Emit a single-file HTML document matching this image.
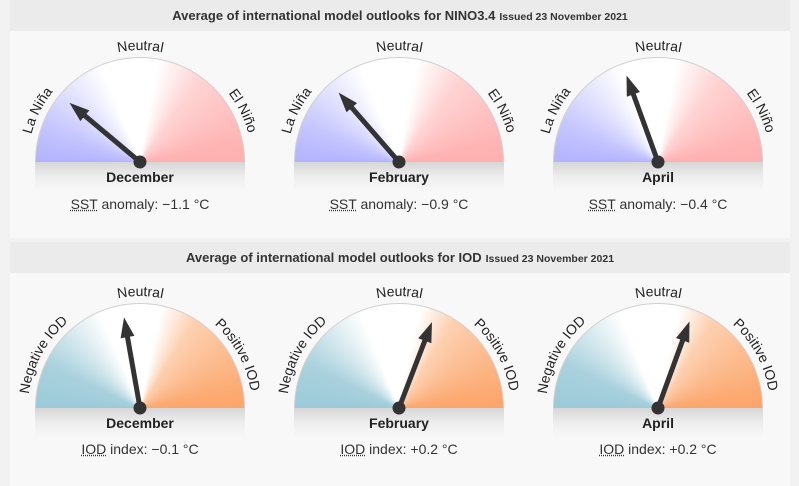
<!DOCTYPE html>
<html><head><meta charset="utf-8"><style>
body{margin:0;width:799px;height:486px;background:#f2f2f2;position:relative;overflow:hidden;font-family:"Liberation Sans",Arial,sans-serif;}
.hdr{position:absolute;left:10px;width:780px;height:31px;background:#ebebeb;text-align:center;line-height:31px;font-weight:bold;font-size:13px;color:#333;}
.hdr small{font-size:10.5px;margin-left:4px;}
.pan{position:absolute;left:10px;width:780px;background:#f8f8f8;}
.fill{position:absolute;width:210px;height:105px;border-radius:105px 105px 0 0;box-sizing:border-box;border:1.5px solid #d0d0d0;border-bottom:none;}
.nino{background:conic-gradient(from -90deg at 50% 100%,#b3b3ff 0deg,#c4c4ff 20deg,#fff 68deg,#fff 100deg,#ffd4d4 125deg,#ffb3b3 170deg,#ffb0b0 180deg);}
.iod{background:conic-gradient(from -90deg at 50% 100%,#9ccad8 0deg,#a9d1dd 25deg,#fff 68deg,#fff 102deg,#fdd0b0 122deg,#fcaa72 170deg,#fba56a 180deg);}
.strip{position:absolute;width:210px;height:30px;background:linear-gradient(#d6d6d6,#eeeeee 50%,#f8f8f8);}
.val{position:absolute;width:210px;text-align:center;font-size:14px;color:#333;}
.val u{text-decoration:underline dotted;}
svg{position:absolute;left:0;top:0;}
</style></head><body>
<div class="hdr" style="top:0">Average of international model outlooks for NINO3.4<small>Issued 23 November 2021</small></div>
<div class="pan" style="top:31px;height:207px"></div>
<div class="hdr" style="top:242px">Average of international model outlooks for IOD<small>Issued 23 November 2021</small></div>
<div class="pan" style="top:273px;height:213px"></div>

<div class="fill nino" style="left:35px;top:57px"></div>
<div class="fill nino" style="left:294px;top:57px"></div>
<div class="fill nino" style="left:553px;top:57px"></div>
<div class="strip" style="left:35px;top:162px"></div>
<div class="strip" style="left:294px;top:162px"></div>
<div class="strip" style="left:553px;top:162px"></div>
<div class="val" style="left:35px;top:196px"><u>SST</u> anomaly: −1.1 °C</div>
<div class="val" style="left:294px;top:196px"><u>SST</u> anomaly: −0.9 °C</div>
<div class="val" style="left:553px;top:196px"><u>SST</u> anomaly: −0.4 °C</div>

<div class="fill iod" style="left:35px;top:303px"></div>
<div class="fill iod" style="left:294px;top:303px"></div>
<div class="fill iod" style="left:553px;top:303px"></div>
<div class="strip" style="left:35px;top:408px"></div>
<div class="strip" style="left:294px;top:408px"></div>
<div class="strip" style="left:553px;top:408px"></div>
<div class="val" style="left:35px;top:441px"><u>IOD</u> index: −0.1 °C</div>
<div class="val" style="left:294px;top:441px"><u>IOD</u> index: +0.2 °C</div>
<div class="val" style="left:553px;top:441px"><u>IOD</u> index: +0.2 °C</div>

<svg width="799" height="486" viewBox="0 0 799 486">
<defs>
<path id="arc" d="M -112 0 A 112 112 0 0 1 112 0"/>
<g id="arrow"><line x1="0" y1="0" x2="0" y2="-76" stroke="#333" stroke-width="5"/><polygon points="0,-92 -7,-72 7,-72" fill="#333"/><circle r="6.5" fill="#333"/></g>
</defs>
<g font-size="14" fill="#222">
<g transform="translate(140,162)">
<text><textPath href="#arc" startOffset="52" text-anchor="middle">La Niña</textPath></text>
<text><textPath href="#arc" startOffset="176" text-anchor="middle">Neutral</textPath></text>
<text><textPath href="#arc" startOffset="300" text-anchor="middle">El Niño</textPath></text>
<use href="#arrow" transform="rotate(-50)"/>
<text y="20" text-anchor="middle" font-weight="bold" font-size="14">December</text></g>
<g transform="translate(399,162)">
<text><textPath href="#arc" startOffset="52" text-anchor="middle">La Niña</textPath></text>
<text><textPath href="#arc" startOffset="176" text-anchor="middle">Neutral</textPath></text>
<text><textPath href="#arc" startOffset="300" text-anchor="middle">El Niño</textPath></text>
<use href="#arrow" transform="rotate(-41)"/>
<text y="20" text-anchor="middle" font-weight="bold" font-size="14">February</text></g>
<g transform="translate(658,162)">
<text><textPath href="#arc" startOffset="52" text-anchor="middle">La Niña</textPath></text>
<text><textPath href="#arc" startOffset="176" text-anchor="middle">Neutral</textPath></text>
<text><textPath href="#arc" startOffset="300" text-anchor="middle">El Niño</textPath></text>
<use href="#arrow" transform="rotate(-20)"/>
<text y="20" text-anchor="middle" font-weight="bold" font-size="14">April</text></g>

<g transform="translate(140,408)">
<text><textPath href="#arc" startOffset="56" text-anchor="middle">Negative IOD</textPath></text>
<text><textPath href="#arc" startOffset="176" text-anchor="middle">Neutral</textPath></text>
<text><textPath href="#arc" startOffset="296" text-anchor="middle">Positive IOD</textPath></text>
<use href="#arrow" transform="rotate(-10)"/>
<text y="20" text-anchor="middle" font-weight="bold" font-size="14">December</text></g>
<g transform="translate(399,408)">
<text><textPath href="#arc" startOffset="56" text-anchor="middle">Negative IOD</textPath></text>
<text><textPath href="#arc" startOffset="176" text-anchor="middle">Neutral</textPath></text>
<text><textPath href="#arc" startOffset="296" text-anchor="middle">Positive IOD</textPath></text>
<use href="#arrow" transform="rotate(21)"/>
<text y="20" text-anchor="middle" font-weight="bold" font-size="14">February</text></g>
<g transform="translate(658,408)">
<text><textPath href="#arc" startOffset="56" text-anchor="middle">Negative IOD</textPath></text>
<text><textPath href="#arc" startOffset="176" text-anchor="middle">Neutral</textPath></text>
<text><textPath href="#arc" startOffset="296" text-anchor="middle">Positive IOD</textPath></text>
<use href="#arrow" transform="rotate(20)"/>
<text y="20" text-anchor="middle" font-weight="bold" font-size="14">April</text></g>
</g>
</svg>
</body></html>
